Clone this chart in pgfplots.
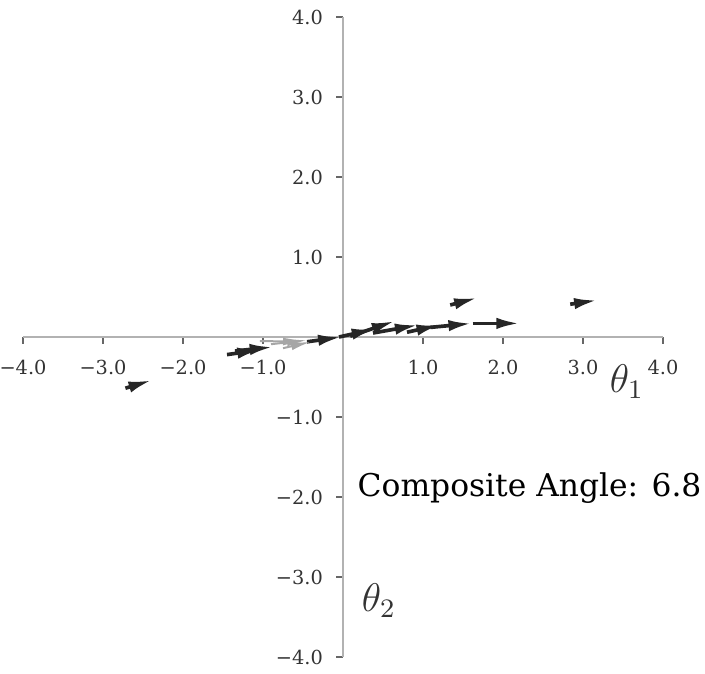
\documentclass[border=0pt]{standalone}
\usepackage{pgfplots}
\pgfplotsset{compat=1.18}
\usepackage{fontspec}
\setmainfont{DejaVu Serif}
\usetikzlibrary{arrows.meta}
\begin{document}
\begin{tikzpicture}
\begin{axis}[
  x=24pt, y=24pt,
  xmin=-4, xmax=4, ymin=-4, ymax=4,
  axis lines=middle,
  axis line style={-, gray!60, line width=0.35pt},
  tick style={gray!80!black, line width=0.35pt},
  tick align=outside,
  major tick length=2pt,
  xtick={-4,-3,-2,-1,0,1,2,3,4},
  ytick={-4,-3,-2,-1,0,1,2,3,4},
  xticklabels={−4.0,−3.0,−2.0,−1.0,0.0,1.0,2.0,3.0,4.0},
  yticklabels={−4.0,−3.0,−2.0,−1.0,0.0,1.0,2.0,3.0,4.0},
  ticklabel style={font=\fontsize{5.8}{6}\selectfont, text=black!80},
  xticklabel style={anchor=north, yshift=-1.5pt},
  yticklabel style={anchor=east, xshift=-0.5pt},
  clip=false,
]
\addplot[quiver={u=\thisrow{u}, v=\thisrow{v}}, black!85, line width=1.1pt,
  -{Latex[length=7pt, width=3.4pt]}] table {
x y u v
1.34 0.40 0.34 0.09
2.84 0.41 0.34 0.05
-2.72 -0.64 0.33 0.10
-1.45 -0.22 0.42 0.06
-1.35 -0.175 0.475 0.05
-0.45 -0.06 0.43 0.06
-0.05 0.00 0.45 0.10
0.09 0.01 0.56 0.19
0.375 0.05 0.565 0.10
0.80 0.06 0.41 0.09
1.09 0.12 0.52 0.05
1.62 0.17 0.59 0.00
};
\addplot[quiver={u=\thisrow{u}, v=\thisrow{v}}, gray!70, line width=0.6pt,
  -{Latex[length=6pt, width=2.4pt]}] table {
x y u v
-1.04 -0.05 0.54 -0.01
-0.75 -0.14 0.35 0.08
-0.90 -0.09 0.45 0.05
};
\node[anchor=west, inner sep=0pt, font=\fontsize{9.4}{11}\selectfont] at (axis cs:0.175,-1.89) {Composite Angle: 6.8};
\node[font=\fontsize{11.5}{13}\selectfont, text=black!80] at (axis cs:0.45,-3.29) {$\theta_2$};
\node[font=\fontsize{11.5}{13}\selectfont, text=black!80] at (axis cs:3.55,-0.56) {$\theta_1$};
\coordinate (bl) at (axis cs:-4.2875,-4.2);
\coordinate (tr) at (axis cs:4.525,4.2125);
\end{axis}
\pgfresetboundingbox
\path[use as bounding box] (bl) rectangle (tr);
\end{tikzpicture}
\end{document}
